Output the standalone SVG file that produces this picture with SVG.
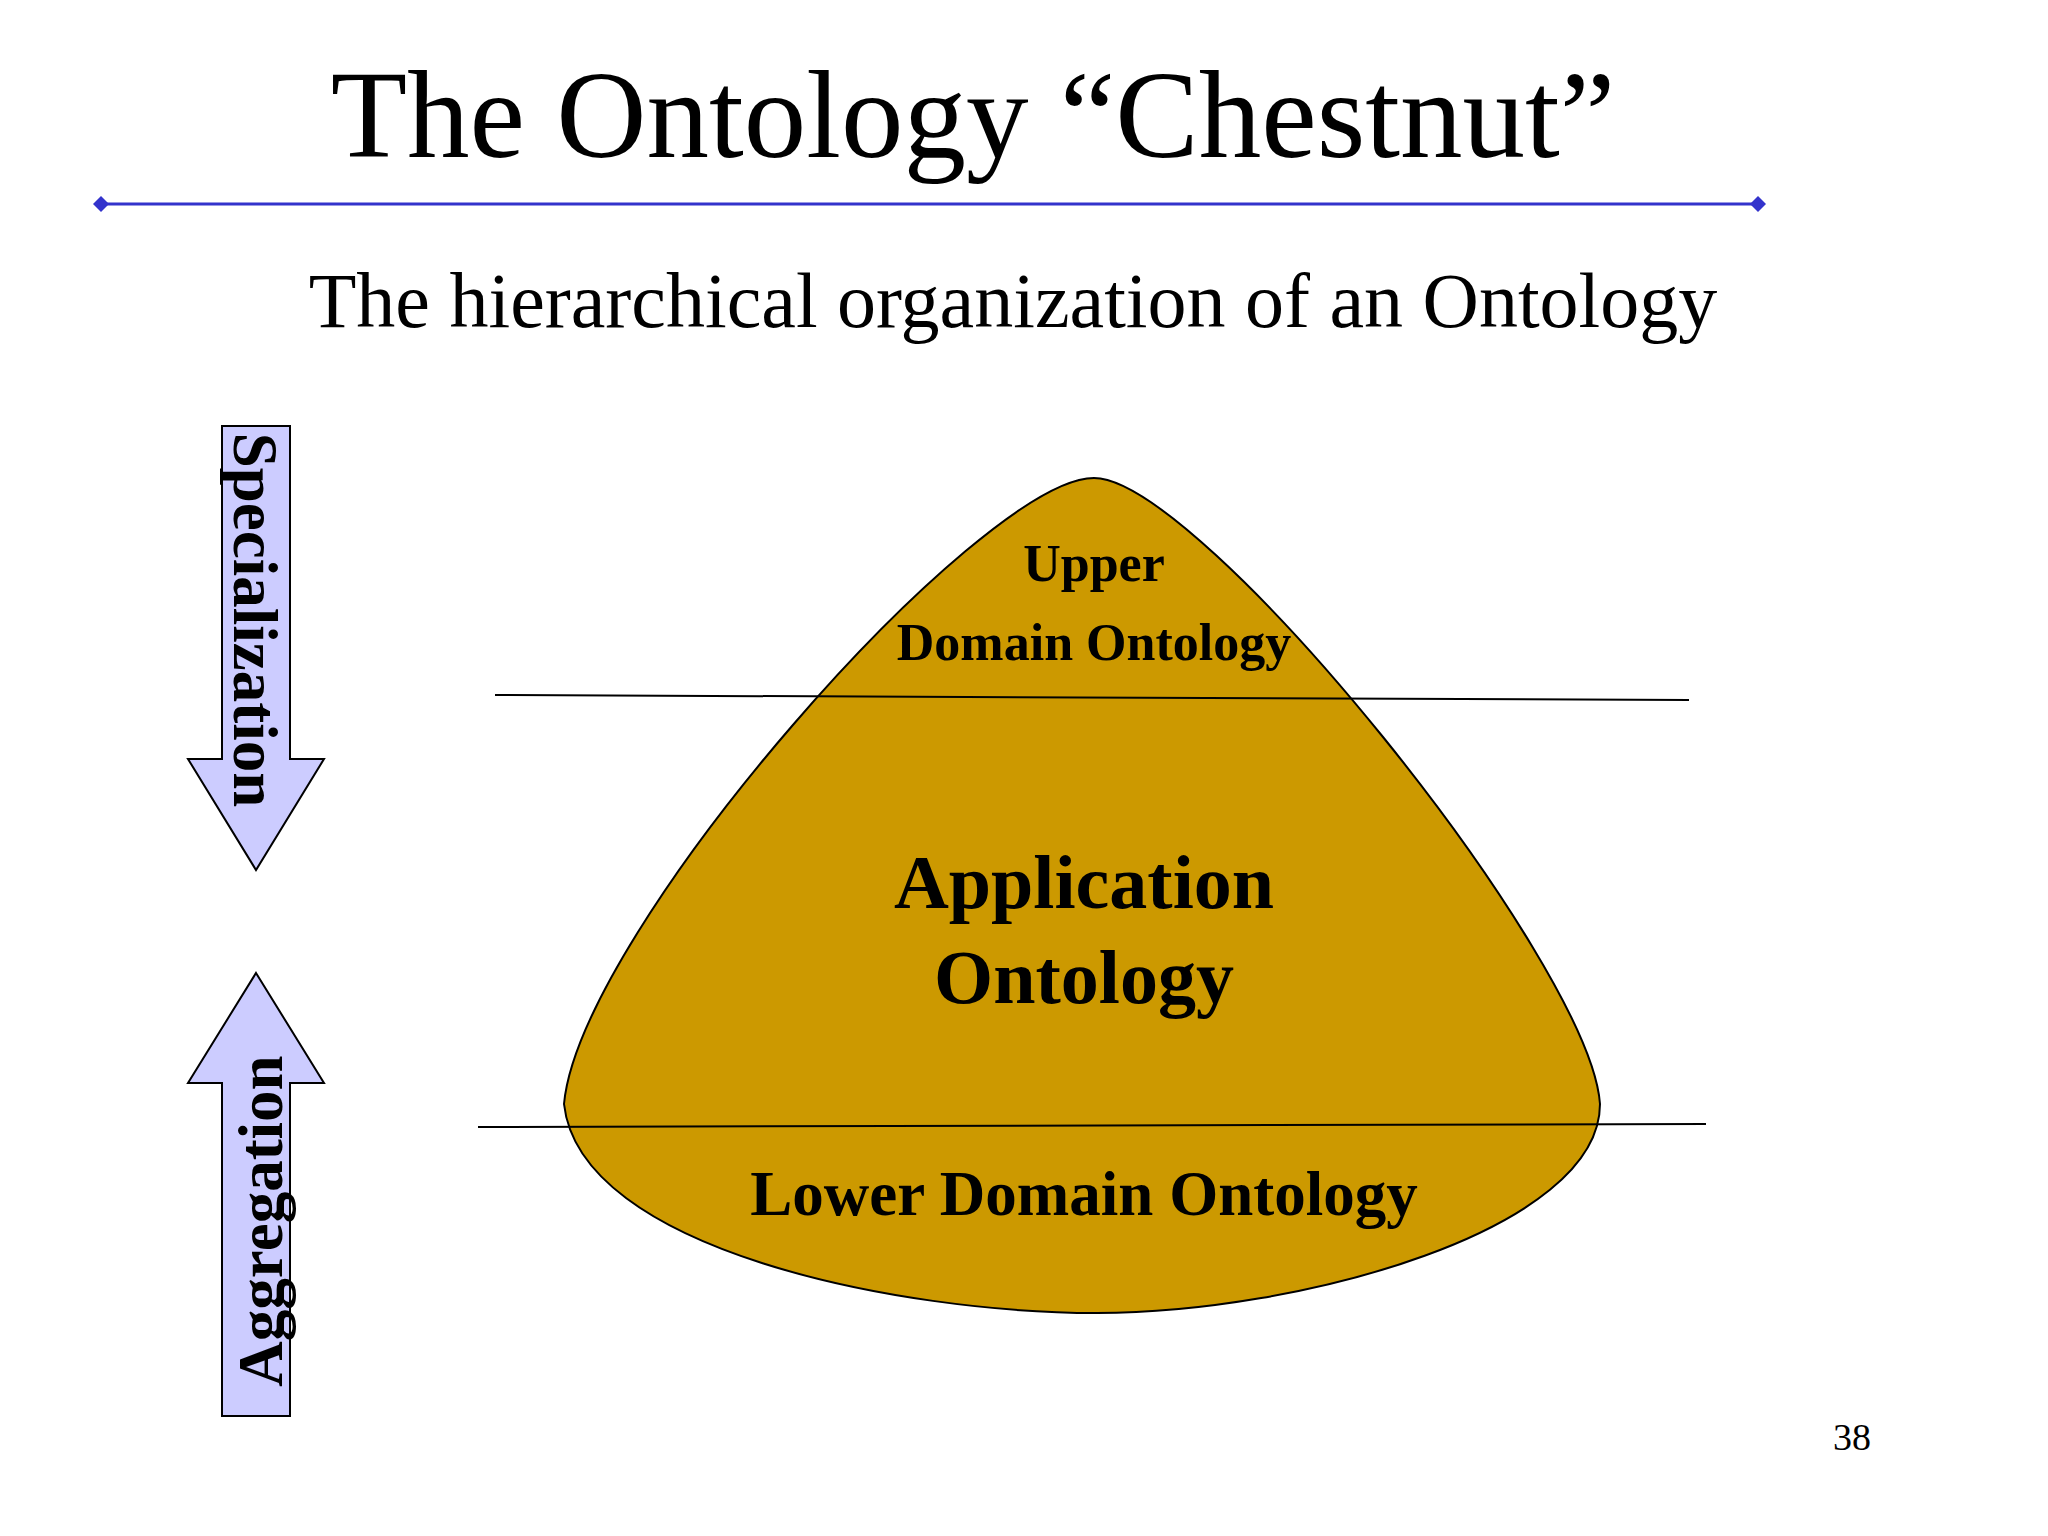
<svg xmlns="http://www.w3.org/2000/svg" width="2048" height="1536" viewBox="0 0 2048 1536">
<style>
.t{font-family:"Liberation Serif","Times New Roman",serif;fill:#000}
.b{font-weight:bold;text-anchor:middle}
.arrow{fill:#ccccff;stroke:#000;stroke-width:2}
</style>
<rect width="2048" height="1536" fill="#fff"/>
<g id="title">
<text class="t" x="973" y="157" font-size="125" text-anchor="middle">The Ontology “Chestnut”</text>
<line x1="101" y1="204" x2="1758" y2="204" stroke="#3333cc" stroke-width="3"/>
<path d="M101,196 L109,204 L101,212 L93,204Z M1758,196 L1766,204 L1758,212 L1750,204Z" fill="#3333cc"/>
<text class="t" x="1013" y="327" font-size="78" text-anchor="middle">The hierarchical organization of an Ontology</text>
</g>
<g id="chestnut">
<path d="M1094,478 C980,478 580,930 564,1104 C580,1250 900,1313 1097,1313 C1300,1313 1600,1230 1600,1104 C1590,960 1200,478 1094,478Z" fill="#cc9900" stroke="#000" stroke-width="2"/>
</g>
<g id="connectors">
<line x1="495" y1="695" x2="1689" y2="700" stroke="#000" stroke-width="2"/>
<line x1="478" y1="1127" x2="1706" y2="1124" stroke="#000" stroke-width="2"/>
</g>
<g id="upper">
<text class="t b" x="1094" y="581" font-size="52">Upper</text>
<text class="t b" x="1094" y="660" font-size="52">Domain Ontology</text>
</g>
<g id="application">
<text class="t b" x="1084" y="908" font-size="76">Application</text>
<text class="t b" x="1084" y="1003" font-size="76">Ontology</text>
</g>
<g id="lower">
<text class="t b" x="1084" y="1215" font-size="63">Lower Domain Ontology</text>
</g>
<g id="specialization">
<path class="arrow" d="M222,426 L290,426 L290,759 L324,759 L256,870 L188,759 L222,759Z"/>
<text class="t b" font-size="63" transform="translate(255,620) rotate(90)" dominant-baseline="central">Specialization</text>
</g>
<g id="aggregation">
<path class="arrow" d="M256,973 L324,1083 L290,1083 L290,1416 L222,1416 L222,1083 L188,1083Z"/>
<text class="t b" font-size="63" transform="translate(261,1221) rotate(-90)" dominant-baseline="central">Aggregation</text>
</g>
<text class="t" x="1852" y="1450" font-size="38" text-anchor="middle">38</text>
</svg>
